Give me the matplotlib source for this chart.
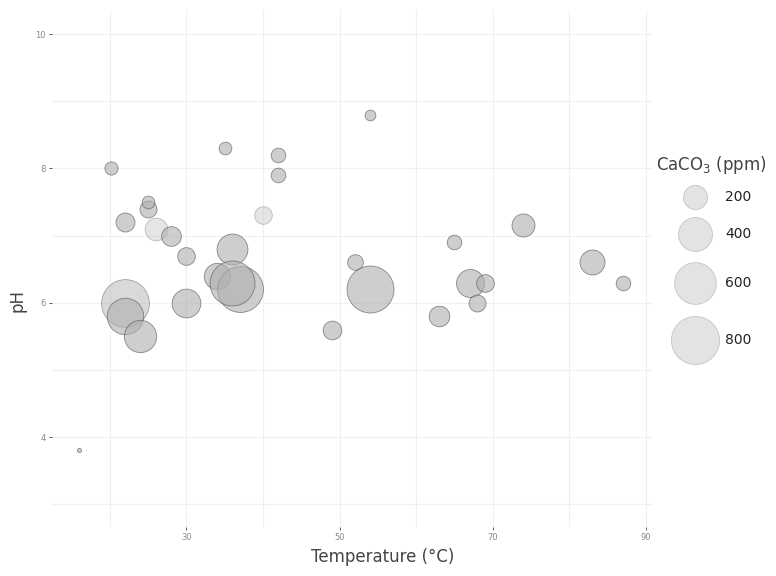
import matplotlib.pyplot as plt

# bubble data: temperature, pH, CaCO3 (ppm)
temperature = [16, 20.2, 22, 25, 25, 26, 28, 30, 35, 36, 34, 37, 36,
               22, 22, 24, 30, 42, 42, 40, 54, 52, 54, 49, 65, 74,
               67, 69, 68, 63, 83, 87]
ph = [3.8, 8.0, 7.2, 7.4, 7.5, 7.1, 7.0, 6.7, 8.3, 6.8, 6.4, 6.2, 6.3,
      6.0, 5.8, 5.5, 6.0, 8.2, 7.9, 7.3, 8.8, 6.6, 6.2, 5.6, 6.9, 7.16,
      6.3, 6.3, 6.0, 5.8, 6.6, 6.3]
caco3 = [6, 60, 125, 100, 56, 178, 134, 108, 56, 330, 240, 730, 700,
         790, 460, 360, 285, 74, 74, 108, 40, 85, 764, 121, 74, 183,
         271, 108, 100, 148, 216, 74]
faded = [0, 0, 0, 0, 0, 1, 0, 0, 0, 0, 0, 0, 0,
         2, 0, 0, 0, 0, 0, 1, 0, 0, 0, 0, 0, 0,
         0, 0, 0, 0, 0, 0]

legend_values = [200, 400, 600, 800]
x_ticks = [30, 50, 70, 90]
y_ticks = [4, 6, 8, 10]

W, H = 776, 576
K = (1.7 * 0.72) ** 2  # ppm -> marker area in pt^2

fig = plt.figure(figsize=(W / 100, H / 100), dpi=100)
ax = fig.add_axes([52 / W, (H - 527) / H, 600 / W, 517 / H])

alpha_for = {0: 0.62, 1: 0.32, 2: 0.48}
for xv, yv, cv, fv in zip(temperature, ph, caco3, faded):
    a = alpha_for[fv]
    ax.scatter(xv, yv, s=K * cv, facecolor=(0.69, 0.69, 0.69, a),
               edgecolor=(0.3, 0.3, 0.3, a), linewidth=0.6, zorder=3)

ax.set_xlim(12.45, 90.8)
ax.set_ylim(2.66, 10.36)
ax.set_xticks(x_ticks)
ax.set_xticks([20, 40, 60, 80], minor=True)
ax.set_yticks(y_ticks)
ax.set_yticks([3, 5, 7, 9], minor=True)
ax.grid(True, which='both', color='#f0f0f0', linewidth=0.8, zorder=0)
for s in ax.spines.values():
    s.set_visible(False)
ax.tick_params(which='major', length=2.5, width=0.6, color='#444444',
               labelsize=6, labelcolor='#888888', pad=2)
ax.tick_params(which='minor', length=0)
ax.set_xlabel('Temperature (°C)', fontsize=12, color='#444444')
ax.set_ylabel('pH', fontsize=12, color='#444444')
ax.xaxis.set_label_coords((383 - 52) / 600, -(548 - 527) / 517)
ax.yaxis.set_label_coords(-(52 - 26) / 600, (527 - 301) / 517)

# size legend drawn in pixel coordinates
lax = fig.add_axes([0, 0, 1, 1])
lax.set_xlim(0, W)
lax.set_ylim(H, 0)
lax.axis('off')
lax.text(656, 165, 'CaCO$_3$ (ppm)', fontsize=12, color='#444444',
         va='center', ha='left')
legend_y = [196.7, 234, 282.7, 340]
for v, ly in zip(legend_values, legend_y):
    lax.scatter(694.5, ly, s=K * v, facecolor='#e3e3e3', edgecolor='#c4c4c4',
                linewidth=0.6)
    lax.text(725, ly, str(v), fontsize=10, color='#222222', va='center')

fig.savefig('out.png', dpi=100)
